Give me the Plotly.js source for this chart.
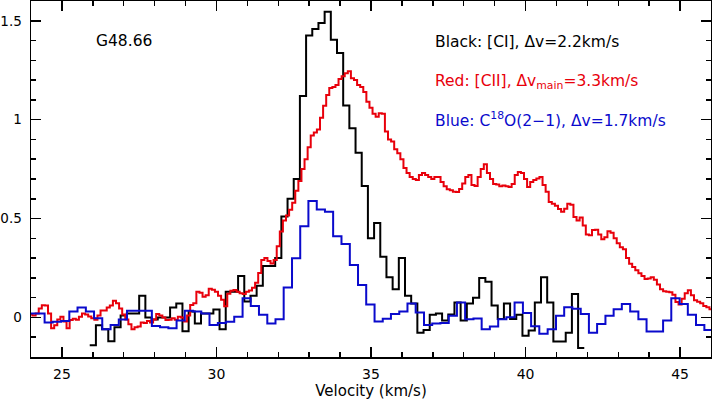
<!DOCTYPE html>
<html><head><meta charset="utf-8">
<script src="https://cdn.plot.ly/plotly-3.0.1.min.js"></script>
<style>html,body{margin:0;padding:0;background:#fff}</style>
</head><body><div id="chart" style="width:712px;height:400px"></div>
<script>
// [CI] channel left edges (km/s) and values
const blackEdges = [25.9,26.1,26.3,26.5,26.7,26.9,27.1,27.3,27.5,27.7,
  27.9,28.1,28.3,28.5,28.7,28.9,29.1,29.3,29.5,29.7,
  29.9,30.1,30.3,30.5,30.7,30.9,31.1,31.3,31.5,31.7,
  31.9,32.1,32.3,32.5,32.7,32.9,33.1,33.3,33.5,33.7,
  33.9,34.1,34.3,34.5,34.7,34.9,35.1,35.3,35.5,35.7,
  35.9,36.1,36.3,36.5,36.7,36.9,37.1,37.3,37.5,37.7,
  37.9,38.1,38.3,38.5,38.7,38.9,39.1,39.3,39.5,39.7,
  39.9,40.1,40.3,40.5,40.7,40.9,41.1,41.3,41.5,41.7,41.9];
const blackT = [-0.14,-0.04,-0.06,-0.12,-0.05,0.01,0.02,0.02,0.11,0.0,
  -0.01,0.0,0.0,0.05,0.07,-0.07,0.03,-0.03,0.02,0.02,
  0.04,-0.06,0.13,0.13,0.21,0.08,0.11,0.16,0.26,0.26,
  0.30,0.51,0.60,0.70,1.12,1.425,1.458,1.489,1.546,1.404,
  1.337,1.072,0.957,0.833,0.665,0.40,0.478,0.307,0.203,0.142,
  0.30,0.11,0.07,-0.077,-0.063,0.013,0.02,-0.016,0.015,0.075,
  -0.016,0.07,0.10,0.20,0.18,0.06,-0.008,0.07,-0.008,0.013,
  -0.092,-0.066,0.075,0.203,0.075,-0.122,-0.122,-0.077,0.119,-0.155];

// [CII] channel centres (km/s) and values
const redV = [24.0,24.1,24.2,24.3,24.4,24.5,24.6,24.7,24.8,24.9,
  25.0,25.1,25.2,25.3,25.4,25.5,25.6,25.7,25.8,25.9,
  26.0,26.1,26.2,26.3,26.4,26.5,26.6,26.7,26.8,26.9,
  27.0,27.1,27.2,27.3,27.4,27.5,27.6,27.7,27.8,27.9,
  28.0,28.1,28.2,28.3,28.4,28.5,28.6,28.7,28.8,28.9,
  29.0,29.1,29.2,29.3,29.4,29.5,29.6,29.7,29.8,29.9,
  30.0,30.1,30.2,30.3,30.4,30.5,30.6,30.7,30.8,30.9,
  31.0,31.1,31.2,31.3,31.4,31.5,31.6,31.7,31.8,31.9,
  32.0,32.1,32.2,32.3,32.4,32.5,32.6,32.7,32.8,32.9,
  33.0,33.1,33.2,33.3,33.4,33.5,33.6,33.7,33.8,33.9,
  34.0,34.1,34.2,34.3,34.4,34.5,34.6,34.7,34.8,34.9,
  35.0,35.1,35.2,35.3,35.4,35.5,35.6,35.7,35.8,35.9,
  36.0,36.1,36.2,36.3,36.4,36.5,36.6,36.7,36.8,36.9,
  37.0,37.1,37.2,37.3,37.4,37.5,37.6,37.7,37.8,37.9,
  38.0,38.1,38.2,38.3,38.4,38.5,38.6,38.7,38.8,38.9,
  39.0,39.1,39.2,39.3,39.4,39.5,39.6,39.7,39.8,39.9,
  40.0,40.1,40.2,40.3,40.4,40.5,40.6,40.7,40.8,40.9,
  41.0,41.1,41.2,41.3,41.4,41.5,41.6,41.7,41.8,41.9,
  42.0,42.1,42.2,42.3,42.4,42.5,42.6,42.7,42.8,42.9,
  43.0,43.1,43.2,43.3,43.4,43.5,43.6,43.7,43.8,43.9,
  44.0,44.1,44.2,44.3,44.4,44.5,44.6,44.7,44.8,44.9,
  45.0,45.1,45.2,45.3,45.4,45.5,45.6,45.7,45.8,45.9,46.0];
const redT = [0.015,0.01,0.02,0.045,0.062,0.06,0.02,-0.055,-0.04,-0.01,
  0.004,-0.02,-0.055,-0.013,-0.006,-0.012,0.004,0.02,0.015,0.005,
  -0.004,-0.012,0.01,0.035,0.035,0.05,0.06,0.085,0.072,0.045,
  0.015,-0.01,-0.035,-0.06,-0.05,-0.046,-0.025,-0.028,-0.018,-0.025,
  -0.01,0.018,0.01,0.0,-0.013,-0.012,-0.004,-0.012,0.004,0.0,
  -0.02,0.01,0.063,0.072,0.13,0.125,0.105,0.112,0.145,0.14,
  0.13,0.11,0.09,0.056,0.12,0.135,0.139,0.13,0.122,0.118,
  0.13,0.136,0.15,0.175,0.225,0.29,0.30,0.285,0.273,0.29,
  0.36,0.435,0.49,0.515,0.545,0.58,0.64,0.69,0.75,0.80,
  0.86,0.92,0.935,0.95,1.01,1.07,1.125,1.16,1.165,1.175,
  1.205,1.22,1.235,1.245,1.21,1.20,1.175,1.165,1.14,1.09,
  1.06,1.03,1.015,1.033,1.03,0.94,0.90,0.89,0.85,0.83,
  0.80,0.755,0.73,0.71,0.70,0.695,0.72,0.73,0.72,0.71,
  0.70,0.71,0.71,0.685,0.663,0.648,0.643,0.635,0.634,0.65,
  0.677,0.71,0.72,0.67,0.665,0.71,0.75,0.774,0.73,0.70,
  0.675,0.672,0.663,0.667,0.663,0.66,0.675,0.72,0.735,0.73,
  0.70,0.66,0.685,0.695,0.702,0.71,0.67,0.635,0.584,0.575,
  0.565,0.548,0.534,0.55,0.575,0.57,0.508,0.49,0.505,0.465,
  0.42,0.415,0.442,0.443,0.42,0.395,0.405,0.436,0.428,0.40,
  0.375,0.355,0.345,0.30,0.272,0.255,0.238,0.223,0.21,0.195,
  0.197,0.203,0.19,0.166,0.143,0.133,0.13,0.128,0.115,0.078,
  0.065,0.095,0.122,0.138,0.112,0.087,0.079,0.072,0.058,0.051,0.041];

// C18O(2-1) channel centres (km/s) and values
const blueV = [23.77,24.04,24.31,24.57,24.84,25.11,25.37,25.64,25.91,26.17,
  26.44,26.71,26.97,27.24,27.51,27.78,28.04,28.31,28.58,28.84,
  29.11,29.38,29.64,29.91,30.18,30.44,30.71,30.98,31.24,31.51,
  31.78,32.04,32.31,32.58,32.84,33.11,33.38,33.64,33.91,34.18,
  34.45,34.71,34.98,35.25,35.51,35.78,36.05,36.31,36.58,36.85,
  37.11,37.38,37.65,37.91,38.18,38.45,38.71,38.98,39.25,39.51,
  39.78,40.05,40.31,40.58,40.85,41.12,41.38,41.65,41.92,42.18,
  42.45,42.72,42.98,43.25,43.52,43.78,44.05,44.32,44.58,44.85,
  45.12,45.38,45.65,45.92,46.18];
const blueT = [0.02,0.02,0.02,-0.026,-0.022,-0.018,0.03,0.05,0.03,-0.004,
  -0.06,-0.038,-0.01,0.034,0.034,0.034,-0.043,-0.05,-0.055,-0.016,
  0.034,0.03,0.02,-0.038,-0.028,-0.022,0.004,0.097,0.058,0.013,
  -0.03,-0.009,0.152,0.299,0.461,0.589,0.546,0.534,0.411,0.371,
  0.265,0.164,0.065,-0.021,-0.006,0.017,0.03,0.07,0.025,-0.038,
  -0.03,-0.028,0.008,0.075,-0.009,-0.005,-0.06,-0.046,-0.009,0.001,
  0.075,0.023,-0.045,-0.083,-0.06,0.008,0.051,0.044,0.018,-0.077,
  -0.033,0.008,0.041,0.068,0.03,-0.009,-0.071,-0.071,-0.016,0.097,
  0.068,0.013,-0.038,-0.063,-0.063];

const xTickVals = [25,30,35,40,45];
const xTickText = ['25','30','35','40','45'];
const yTickVals = [0,0.5,1,1.5];
const yTickText = ['0','0.5','1','1.5'];

const labels = {
  source: 'G48.66',
  black: 'Black: [CI], \u0394v=2.2km/s',
  red: 'Red: [CII], \u0394v<sub>main</sub>=3.3km/s',
  blue: 'Blue: C<sup>18</sup>O(2\u22121), \u0394v=1.7km/s',
  xTitle: 'Velocity (km/s)'
};

const FONT = 'DejaVu Sans, Liberation Sans, sans-serif';
const BLACK = '#000000', RED = '#e8000b', BLUE = '#0a0acc';
const ANN = 15.5;

const traces = [
  {x: blackEdges, y: blackT.concat([blackT[blackT.length-1]]), mode:'lines',
   line:{shape:'hv', color:BLACK, width:2}, hoverinfo:'skip'},
  {x: redV, y: redT, mode:'lines', line:{shape:'hvh', color:RED, width:2}, hoverinfo:'skip'},
  {x: blueV, y: blueT, mode:'lines', line:{shape:'hvh', color:BLUE, width:2}, hoverinfo:'skip'}
];

const axisCommon = {
  showline:true, linecolor:'#000', linewidth:1.5, mirror:'allticks',
  ticks:'inside', tickcolor:'#000', tickwidth:1.5, ticklen:10,
  showgrid:false, zeroline:false, tickmode:'array'
};

const layout = {
  width:712, height:400,
  margin:{l:31, r:1, t:1, b:43},
  paper_bgcolor:'#fff', plot_bgcolor:'#fff',
  showlegend:false,
  font:{family:FONT, size:14, color:'#000'},
  xaxis: Object.assign({}, axisCommon, {
    range:[24,46], tickvals:xTickVals, ticktext:xTickText,
    tickfont:{family:FONT, size:14, color:'#000'},
    minor:{tickmode:'linear', tick0:24, dtick:1, ticks:'inside', ticklen:5, tickwidth:1.5, tickcolor:'#000', showgrid:false},
    ticklabelstandoff:4,
    title:{text:labels.xTitle, font:{family:FONT, size:15, color:'#000'}, standoff:4}
  }),
  yaxis: Object.assign({}, axisCommon, {
    range:[-0.2,1.6], tickvals:yTickVals, ticktext:yTickText,
    tickfont:{family:FONT, size:13.5, color:'#000'},
    minor:{tickmode:'linear', tick0:0, dtick:0.1, ticks:'inside', ticklen:5, tickwidth:1.5, tickcolor:'#000', showgrid:false},
    ticklabelstandoff:5
  }),
  annotations:[
    {x:26.03, y:1.40, xref:'x', yref:'y', text:labels.source, showarrow:false, xanchor:'left', yanchor:'middle', font:{family:FONT, size:ANN, color:BLACK}},
    {x:37.0, y:1.394, xref:'x', yref:'y', text:labels.black, showarrow:false, xanchor:'left', yanchor:'middle', font:{family:FONT, size:ANN, color:BLACK}},
    {x:37.0, y:1.19, xref:'x', yref:'y', text:labels.red, showarrow:false, xanchor:'left', yanchor:'middle', font:{family:FONT, size:ANN, color:RED}},
    {x:37.0, y:1.0, xref:'x', yref:'y', text:labels.blue, showarrow:false, xanchor:'left', yanchor:'middle', font:{family:FONT, size:ANN, color:BLUE}}
  ]
};

Plotly.newPlot('chart', traces, layout, {staticPlot:true, displayModeBar:false});
</script>
</body></html>
